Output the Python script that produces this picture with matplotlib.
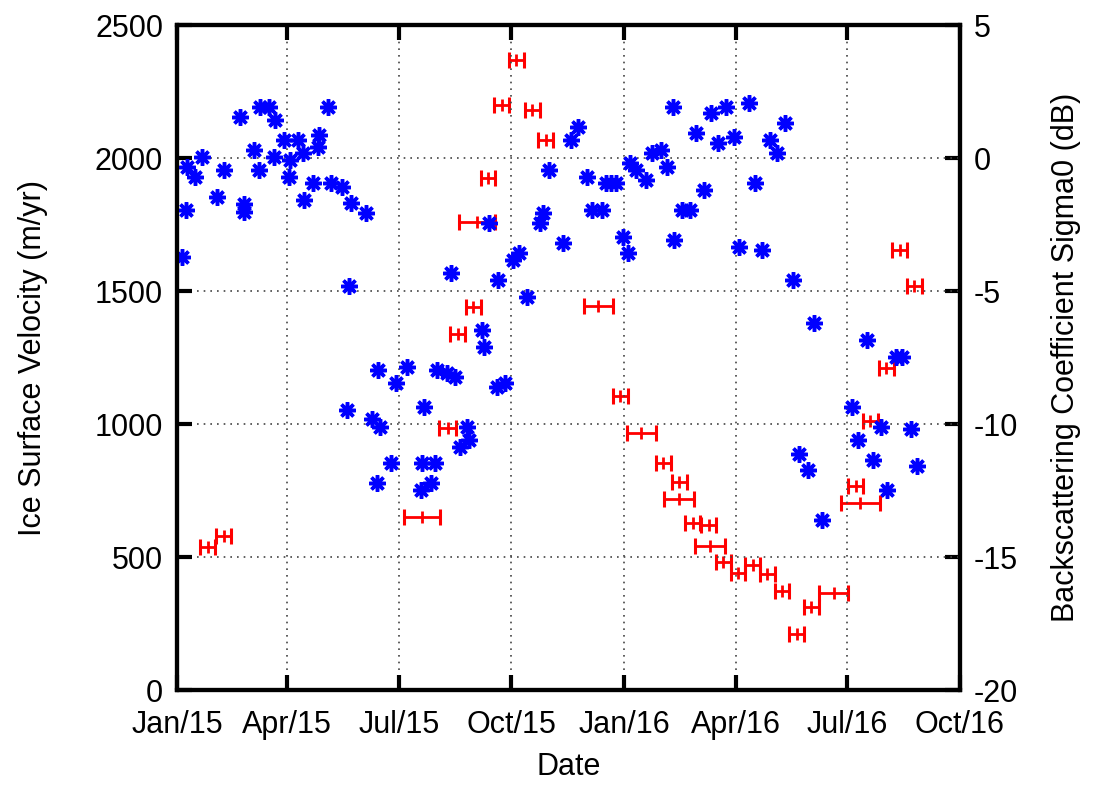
import numpy as np
import matplotlib.pyplot as plt
import matplotlib.dates as mdates

plt.rcParams['font.family'] = ['Liberation Sans', 'DejaVu Sans']
plt.rcParams['axes.unicode_minus'] = False

start = np.datetime64('2015-01-01')

# ice surface velocity (days since 2015-01-01, m/yr)
vel_day = [4, 7, 8, 15, 20, 33, 38, 51, 55, 55, 63, 67, 68, 75, 80, 79, 87, 91, 92, 99,
           104, 103, 111, 116, 115, 123, 126, 135, 142, 140, 154, 139, 159, 164, 166, 163,
           175, 179, 188, 199, 202, 200, 211, 207, 212, 220, 227, 224, 231, 237, 238, 249,
           251, 255, 261, 268, 262, 274, 279, 286, 296, 299, 304, 315, 322, 327, 335, 339,
           347, 350, 354, 358, 364, 368, 370, 375, 383, 388, 395, 400, 405, 406, 412, 419,
           424, 430, 436, 442, 448, 455, 459, 467, 472, 478, 484, 490, 496, 503, 508, 515,
           520, 527, 551, 556, 563, 568, 575, 580, 587, 592, 599, 604]
vel = [1628, 1805, 1966, 1929, 2004, 1853, 1955, 2154, 1797, 1827, 2030, 1955, 2192, 2192,
       2143, 2004, 2068, 1929, 1992, 2068, 1842, 2019, 1906, 2086, 2041, 2192, 1906, 1891,
       1831, 1519, 1793, 1053, 1019, 1203, 989, 778, 853, 1154, 1214, 752, 1064, 853, 853,
       778, 1203, 1192, 1177, 1568, 914, 989, 940, 1353, 1289, 1756, 1139, 1154, 1541, 1617,
       1643, 1477, 1756, 1793, 1955, 1680, 2068, 2117, 1929, 1805, 1805, 1906, 1906, 1906,
       1703, 1643, 1981, 1955, 1917, 2019, 2030, 1966, 2192, 1692, 1805, 1805, 2094, 1880,
       2169, 2056, 2192, 2079, 1665, 2207, 1906, 1654, 2068, 2019, 2132, 1541, 887, 827,
       1380, 639, 1064, 940, 1316, 865, 989, 752, 1252, 1252, 981, 842]

# backscattering coefficient (centre day, dB, half span in days)
sig_day = [25, 38, 200, 221, 229, 242, 245, 254, 265, 277, 290, 301, 344, 362, 379, 397,
           410, 410, 421, 434, 435, 446, 458, 470, 482, 494, 506, 518, 536, 554, 558, 566,
           579, 590, 602]
sig_db = [-14.62, -14.21, -13.50, -10.15, -6.62, -5.60, -2.41, -0.75, 1.99, 3.68, 1.80, 0.68,
          -5.56, -8.95, -10.34, -11.47, -12.18, -12.82, -13.72, -13.80, -14.59, -15.19,
          -15.60, -15.30, -15.64, -16.28, -17.89, -16.88, -16.35, -12.33, -12.97, -9.89,
          -7.89, -3.46, -4.81]
sig_half = [6, 6, 15, 7, 6, 6, 15, 6, 6, 6, 6, 6, 12, 6, 12, 6, 6, 12, 6, 6, 12, 6, 6, 6,
            6, 6, 6, 6, 12, 6, 16, 6, 6, 6, 6]

vel_t = start + np.array(vel_day).astype('timedelta64[D]')
sig_t = start + np.array(sig_day).astype('timedelta64[D]')
sig_err = np.array(sig_half).astype('timedelta64[D]')

fig = plt.figure(figsize=(10.93, 7.87), dpi=100)
ax = fig.add_axes([0.162, 0.123, 0.716, 0.845])
ax2 = ax.twinx()
ax2.set_zorder(ax.get_zorder() - 1)
ax.patch.set_visible(False)

ax2.errorbar(sig_t, sig_db, xerr=sig_err, fmt='none', ecolor='red', elinewidth=2,
             capsize=6, capthick=2.2)
ax2.plot(sig_t, sig_db, linestyle='none', marker='|', color='red', markersize=8, mew=2)

ax.plot(vel_t, vel, linestyle='none', marker=(8, 2, 0), color='blue', markersize=12, mew=2.5)

ax.set_xlim(np.datetime64('2015-01-01'), np.datetime64('2016-10-01'))
ax.set_ylim(0, 2500)
ax2.set_ylim(-20, 5)
ax.set_yticks(np.arange(0, 2501, 500))
ax2.set_yticks(np.arange(-20, 6, 5))
ax.xaxis.set_major_locator(mdates.MonthLocator(bymonth=[1, 4, 7, 10]))
ax.xaxis.set_major_formatter(mdates.DateFormatter('%b/%y'))

ax.grid(True, color='#444444', linestyle=(0, (1, 3)), linewidth=1.2)

for a in (ax, ax2):
    for s in a.spines.values():
        s.set_linewidth(3)
ax.tick_params(axis='y', direction='in', length=11, width=3, labelsize=22, pad=10,
               right=False)
ax.tick_params(axis='x', direction='in', length=11, width=3, labelsize=22, pad=14,
               top=True)
ax2.tick_params(axis='y', direction='in', length=11, width=3, labelsize=22, pad=10)

ax.set_xlabel('Date', fontsize=22, labelpad=9)
ax.set_ylabel('Ice Surface Velocity (m/yr)', fontsize=22, labelpad=34)
ax2.set_ylabel('Backscattering Coefficient Sigma0 (dB)', fontsize=22, labelpad=24)

fig.savefig('out.png', dpi=100)
